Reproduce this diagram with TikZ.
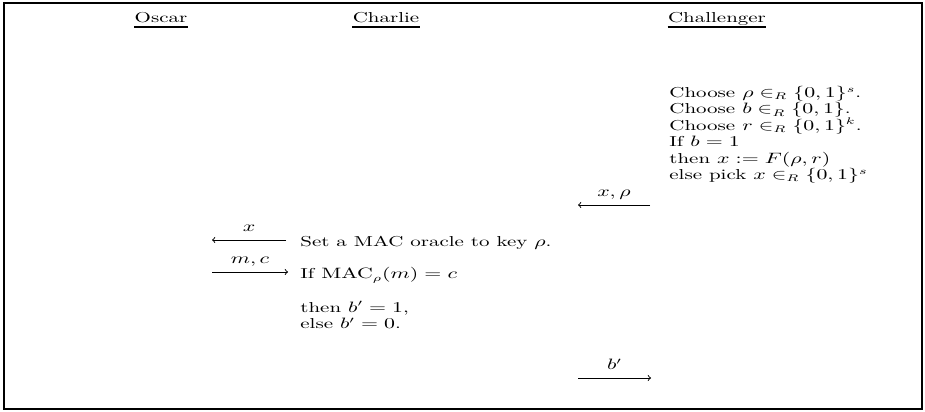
\documentclass[tikz,border=0pt]{standalone}
\usepackage{amsmath, amssymb}
\usepackage{tikz}
\usetikzlibrary{positioning}

\tikzset{
    party/.style={anchor=base},
    says/.style={anchor=base west},
    block/.style={anchor=north west, align=left},
    msg/.style={->, line width=0.7pt},
    msglabel/.style={anchor=base, yshift=6pt},
    hdrule/.style={line width=1.2pt}
}

\begin{document}
\begin{tikzpicture}[>=to, x=0.73pt, y=-0.73pt,
        every node/.style={xscale=1.457, inner sep=0pt, font=\fontsize{10.5}{12}\selectfont}]
                % 1. Khung
                \useasboundingbox (0,0) rectangle (925,412);
                \draw[line width=1.4pt] (4,3) rectangle (922,409);
                
                % 2. Các bên
                \node[party] (oscar) at (161,23) {Oscar};
                \node[party] (charlie) at (386,23) {Charlie};
                \node[party] (chal) at (717,23) {Challenger};
                \foreach \p in {oscar, charlie, chal} {
                    \draw[hdrule] ([yshift=-3pt]\p.base west) -- ([yshift=-3pt]\p.base east);
                }
                
                % 3. Challenger chọn khóa
                \node[block] (pick) at (669,86) {Choose $\rho \in_R \{0,1\}^s$.\\
                    Choose $b \in_R \{0,1\}$.\\
                    Choose $r \in_R \{0,1\}^k$.\\
                    If $b = 1$\\
                    then $x := F(\rho, r)$\\
                    else pick $x \in_R \{0,1\}^s$};
                
                % 4. Charlie
                \node[says] (oracle) at (300,247) {Set a MAC oracle to key $\rho$.};
                \node[says] (check) at (300,279) {If $\mathrm{MAC}_\rho(m) = c$};
                \node[block] (guess) at (300,301) {then $b' = 1$,\\ else $b' = 0$.};
                
                % 5. Các thông điệp
                \coordinate (xr-a) at (650,205);
                \coordinate (xr-b) at (578,205);
                \coordinate (x-a) at (286,240);
                \coordinate (x-b) at (212,240);
                \coordinate (mc-a) at (212,272);
                \coordinate (mc-b) at (288,272);
                \coordinate (bb-a) at (578,378);
                \coordinate (bb-b) at (651,378);
                \draw[msg] (xr-a) -- node[msglabel] {$x,\rho$} (xr-b);
                \draw[msg] (x-a) -- node[msglabel] {$x$} (x-b);
                \draw[msg] (mc-a) -- node[msglabel] {$m,c$} (mc-b);
                \draw[msg] (bb-a) -- node[msglabel] {$b'$} (bb-b);
            \end{tikzpicture}
\end{document}
